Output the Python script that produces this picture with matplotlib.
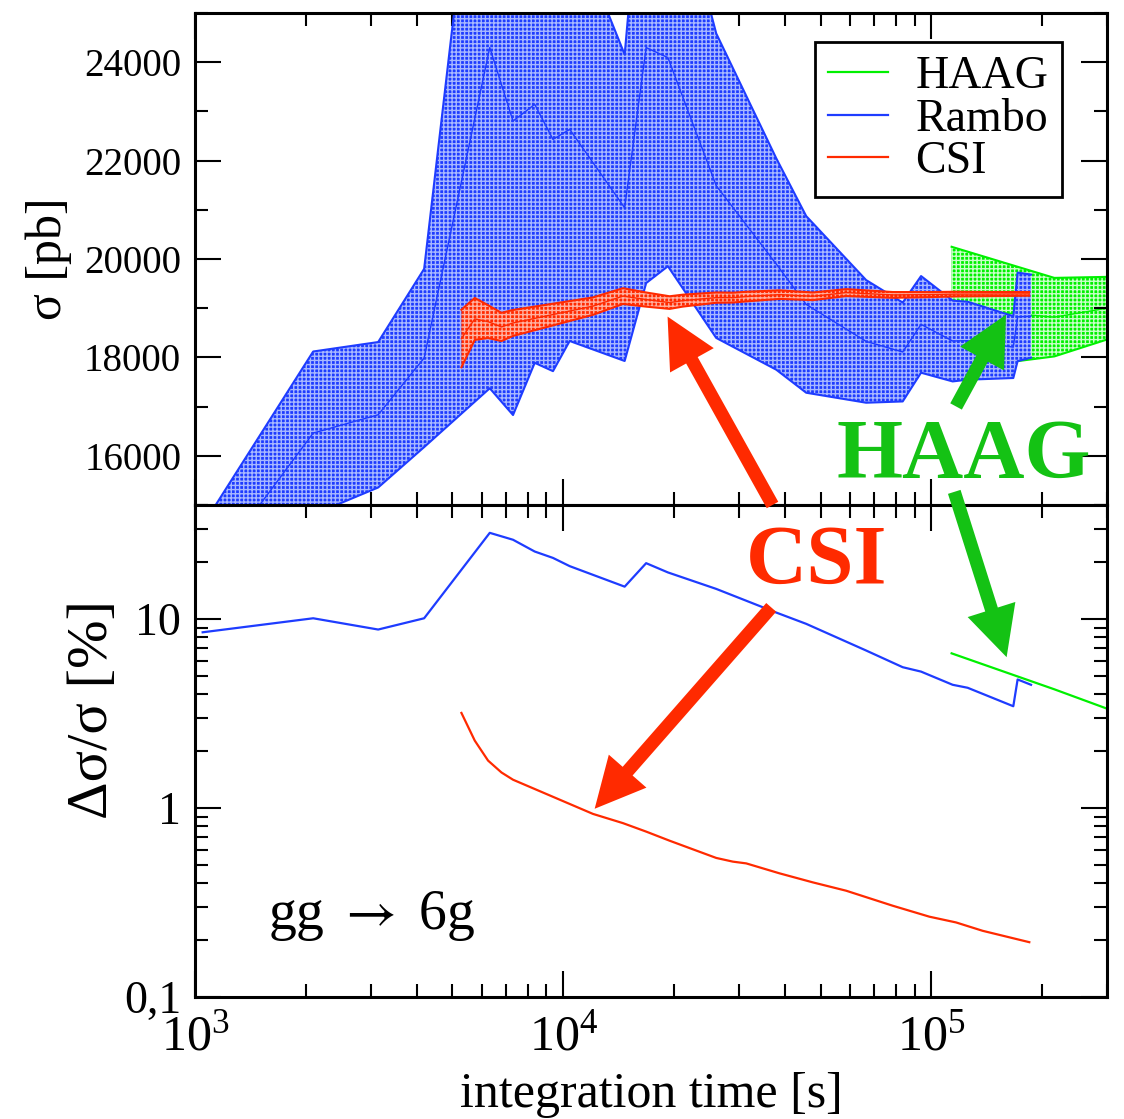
import numpy as np
import matplotlib
matplotlib.use('Agg')
import matplotlib.pyplot as plt
from matplotlib.ticker import MultipleLocator, LogLocator, FixedLocator, FuncFormatter, NullFormatter
from matplotlib.patches import ConnectionPatch
from matplotlib.lines import Line2D

plt.rcParams['font.family'] = ['Liberation Serif', 'DejaVu Serif']
plt.rcParams['mathtext.fontset'] = 'custom'
plt.rcParams['mathtext.rm'] = 'Liberation Serif'
plt.rcParams['mathtext.it'] = 'Liberation Serif:italic'
plt.rcParams['hatch.linewidth'] = 1.0

# ---------------- data ----------------
rambo_t = [1049, 2094, 3144, 4191, 6318, 7307, 8369, 9382, 10414, 14688, 16800,
           19250, 26040, 37890, 45710, 66500, 83590, 93760, 114240, 125480,
           166940, 171500, 186500]
rambo_sigma = [13443, 16462, 16834, 17988, 24297, 22803, 23143, 22431, 22634,
               21041, 24297, 24093, 21490, 19900, 19077, 18325, 18110, 18671,
               18333, 18339, 18209, 18824, 18839]
rambo_err = [8.49, 10.07, 8.78, 10.07, 28.5, 26.2, 22.7, 21.0, 19.0, 14.8, 19.7,
             17.6, 14.4, 10.8, 9.41, 6.80, 5.55, 5.26, 4.48, 4.32, 3.45, 4.78, 4.48]

csi_t = [5292, 5752, 6251, 6798, 7307, 12045, 14534, 16820, 19454, 21140, 26040,
         28900, 31420, 38680, 47640, 58680, 78520, 98770, 116700, 137800, 184500]
csi_sigma = [18385, 18782, 18727, 18619, 18700, 19042, 19246, 19175, 19114, 19154,
             19215, 19215, 19236, 19276, 19242, 19317, 19270, 19276, 19287, 19287,
             19291]
csi_err = [3.18, 2.27, 1.78, 1.54, 1.41, 0.930, 0.831, 0.749, 0.671, 0.632, 0.544,
           0.520, 0.509, 0.451, 0.404, 0.365, 0.304, 0.266, 0.248, 0.224, 0.195]

haag_t = [113500, 215800, 300000]
haag_sigma = [19000, 18818, 19000]
haag_err = [6.57, 4.24, 3.35]

BLUE = '#1e3cff'
RED = '#ff2a00'
GREEN = '#00f000'
DKGREEN = '#14c214'

fig = plt.figure(figsize=(11.24, 11.19), dpi=100)
ax1 = fig.add_axes([0.1735, 0.5487, 0.8114, 0.4397])
ax2 = fig.add_axes([0.1735, 0.1090, 0.8114, 0.4397])


def band(ax, t, s, e, color, hcolor, z):
    t = np.asarray(t, float)
    s = np.asarray(s, float)
    e = np.asarray(e, float) / 100.0
    lo, hi = s * (1 - e), s * (1 + e)
    ax.fill_between(t, lo, hi, facecolor=color, edgecolor='none', linewidth=0, zorder=z)
    ax.fill_between(t, lo, hi, facecolor='none', edgecolor=hcolor, hatch='++++',
                    linewidth=0, zorder=z)
    ax.plot(t, lo, color=color, lw=1.5, zorder=z)
    ax.plot(t, hi, color=color, lw=1.5, zorder=z)
    ax.plot(t, s, color=color, lw=1.0, zorder=z)


band(ax1, haag_t, haag_sigma, haag_err, GREEN, '#c8ffc8', 1)
band(ax1, rambo_t, rambo_sigma, rambo_err, BLUE, '#a8b8ff', 2)
band(ax1, csi_t, csi_sigma, csi_err, RED, '#ffb0a0', 3)

ax2.plot(rambo_t, rambo_err, color=BLUE, lw=1.6)
ax2.plot(csi_t, csi_err, color=RED, lw=1.6)
ax2.plot(haag_t, haag_err, color=GREEN, lw=1.6)

for ax in (ax1, ax2):
    ax.set_xscale('log')
    ax.set_xlim(1e3, 3e5)
    ax.xaxis.set_major_locator(LogLocator(base=10, numticks=10))
    ax.xaxis.set_minor_locator(LogLocator(base=10, subs=np.arange(2, 10), numticks=20))
    ax.tick_params(which='both', direction='in', top=True, right=True, width=1.5)
    ax.tick_params(which='major', length=19)
    ax.tick_params(which='minor', length=9.5)
    for sp in ax.spines.values():
        sp.set_linewidth(2.2)

ax1.set_ylim(15000, 25000)
ax1.yaxis.set_major_locator(FixedLocator([16000, 18000, 20000, 22000, 24000]))
ax1.yaxis.set_minor_locator(MultipleLocator(1000))
ax1.xaxis.set_major_formatter(NullFormatter())
ax1.xaxis.set_minor_formatter(NullFormatter())
ax1.tick_params(axis='y', labelsize=28, pad=10)
ax1.set_ylabel('σ [pb]', fontsize=36)
ax1.yaxis.set_label_coords(-0.135, 0.5)

ax2.set_yscale('log')
ax2.set_ylim(0.1, 40)
ax2.yaxis.set_major_locator(FixedLocator([0.1, 1, 10]))
ax2.yaxis.set_minor_locator(LogLocator(base=10, subs=np.arange(2, 10), numticks=20))
ax2.yaxis.set_minor_formatter(NullFormatter())
ax2.yaxis.set_major_formatter(FuncFormatter(
    lambda v, p: {0.1: '0,1', 1: '1', 10: '10'}.get(round(v, 3), '')))
ax2.xaxis.set_major_formatter(FuncFormatter(
    lambda v, p: r'$\mathregular{10^{%d}}$' % int(round(np.log10(v)))))
ax2.xaxis.set_minor_formatter(NullFormatter())
ax2.tick_params(axis='y', labelsize=33, pad=10)
ax2.tick_params(axis='x', labelsize=36, pad=12)
ax2.set_ylabel('Δσ/σ [%]', fontsize=42)
ax2.yaxis.set_label_coords(-0.083, 0.585)
ax2.set_xlabel('integration time [s]', fontsize=36, labelpad=8)

handles = [Line2D([], [], color=GREEN, lw=1.6),
           Line2D([], [], color=BLUE, lw=1.6),
           Line2D([], [], color=RED, lw=1.6)]
leg = ax1.legend(handles, ['HAAG', 'Rambo', 'CSI'], loc='upper right',
                 bbox_to_anchor=(0.9507, 0.941), fontsize=33, frameon=True,
                 fancybox=False, framealpha=1, edgecolor='black', borderaxespad=0,
                 handlelength=1.3, handletextpad=0.6, labelspacing=0.0,
                 borderpad=0.3)
leg.get_frame().set_linewidth(2)
leg.set_zorder(10)

# annotations
ax1.text(122100, 15552, 'HAAG', color=DKGREEN, fontsize=61, fontweight='bold',
         ha='center', va='baseline', zorder=12, clip_on=False)
ax2.text(48750, 15.4, 'CSI', color=RED, fontsize=61, fontweight='bold',
         ha='center', va='baseline', zorder=12, clip_on=False)
ax2.text(1578, 0.23, r'gg $\rightarrow$ 6g', color='black', fontsize=40,
         ha='left', va='baseline', math_fontfamily='stix')

astyle = 'simple,head_length=3.6,head_width=3.6,tail_width=0.95'
arrows = [
    ((37030, 15000), ax1, (19210, 18829), ax1, RED),
    ((36730, 11.5), ax2, (12175, 0.99), ax2, RED),
    ((116700, 17003), ax1, (159500, 18869), ax1, DKGREEN),
    ((115400, 15267), ax1, (160100, 6.27), ax2, DKGREEN),
]
for (pa, axa, pb, axb, col) in arrows:
    cp = ConnectionPatch(xyA=pa, coordsA=axa.transData, xyB=pb, coordsB=axb.transData,
                         arrowstyle=astyle, mutation_scale=10, color=col,
                         shrinkA=0, shrinkB=0, linewidth=0, zorder=20)
    fig.add_artist(cp)

fig.savefig('out.png', dpi=100)
